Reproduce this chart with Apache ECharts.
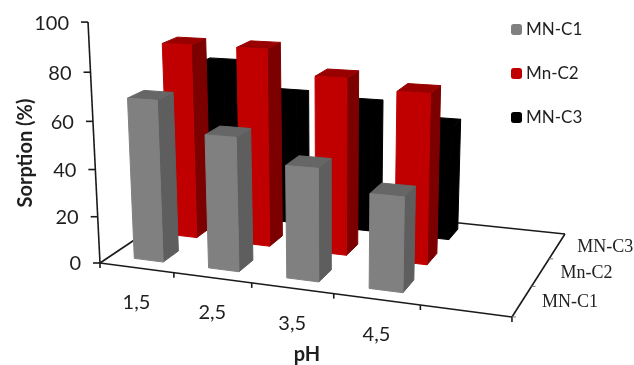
<!DOCTYPE html>
<html>
<head>
<meta charset="utf-8">
<style>
  html, body { margin: 0; padding: 0; background: #fff; }
  #chart { width: 634px; height: 365px; }
</style>
<script src="https://cdn.jsdelivr.net/npm/echarts@6/dist/echarts.min.js"></script>
</head>
<body>
<div id="chart"></div>
<script>
const phLabels = ["1,5", "2,5", "3,5", "4,5"];
const seriesNames = ["MN-C1", "Mn-C2", "MN-C3"];
const valuesC1 = [68, 55.5, 46, 38];
const valuesC2 = [84, 84, 74, 70];
const valuesC3 = [68.5, 56.5, 54.5, 48.5];
const yTicks = [0, 20, 40, 60, 80, 100];

// the picture keeps an empty fifth slot on the floor
const slotCount = phLabels.length + 1;
const depthCount = seriesNames.length;

const gridBox = { left: 100, top: 22, width: 412, height: 241 };

// camera: floor homography plus a vertical vanishing point far below the chart
const cam = {
  a: 347.7, b: 129.4, c: 100,
  d: 14.2, e: -38.2, f: 263,
  g: -0.1255, h: 0.147,
  vx: -0.163, vy: -2.42, vw: -0.00049,
};

function project(u, w, v) {
  const nu = u / slotCount;
  const nw = w / depthCount;
  const den = cam.g * nu + cam.h * nw + 1 + cam.vw * v;
  return [
    (cam.a * nu + cam.b * nw + cam.c + cam.vx * v) / den,
    (cam.d * nu + cam.e * nw + cam.f + cam.vy * v) / den,
  ];
}

const shades = [
  { front: "#808080", side: "#5e5e5e", top: "#666666" },
  { front: "#c00000", side: "#7c0000", top: "#990000" },
  { front: "#000000", side: "#000000", top: "#000000" },
];

function barRenderer(depth) {
  const shade = shades[depth];
  return function (params, api) {
    // go through the hidden axes, then tip the flat position into the 3D floor
    const pt = api.coord([api.value(0), api.value(1)]);
    const u = (pt[0] - gridBox.left) / (gridBox.width / slotCount);
    const v = (100 * (gridBox.top + gridBox.height - pt[1])) / gridBox.height;
    const u0 = u - 0.18, u1 = u + 0.215;
    const w0 = depth + 0.3, w1 = depth + 0.74;
    const poly = (points, fill) => ({
      type: "polygon",
      shape: { points },
      style: { fill, stroke: fill, lineWidth: 1 },
    });
    return {
      type: "group",
      children: [
        poly([project(u1, w0, 0), project(u1, w1, 0), project(u1, w1, v), project(u1, w0, v)], shade.side),
        poly([project(u0, w0, v), project(u1, w0, v), project(u1, w1, v), project(u0, w1, v)], shade.top),
        poly([project(u0, w0, 0), project(u1, w0, 0), project(u1, w0, v), project(u0, w0, v)], shade.front),
      ],
    };
  };
}

function seg(p, q, width, color) {
  return {
    type: "line",
    shape: { x1: p[0], y1: p[1], x2: q[0], y2: q[1] },
    style: { stroke: color || "#1a1a1a", lineWidth: width || 1.6 },
  };
}

function label(text, x, y, opts) {
  return {
    type: "text",
    x,
    y,
    style: Object.assign({
      text,
      fill: "#1f1f1f",
      fontFamily: "Lato",
      fontSize: 20,
      textAlign: "center",
      textVerticalAlign: "middle",
    }, opts),
  };
}

function renderFrame() {
  const children = [];
  const A = project(0, 0, 0), B = project(slotCount, 0, 0);
  const C = project(slotCount, depthCount, 0), D = project(0, depthCount, 0);
  children.push(seg(A, B), seg(B, C), seg(C, D), seg(D, A));
  children.push(seg(A, project(0, 0, 100)));

  yTicks.forEach((t) => {
    const p = project(0, 0, t);
    children.push(seg(p, [p[0] - 7, p[1]]));
    children.push(label(String(t), p[0] - 19, p[1] + 1, { textAlign: "right" }));
  });

  for (let i = 0; i <= slotCount; i++) {
    const p = project(i, 0, 0);
    children.push(seg(p, [p[0], p[1] + 5]));
  }
  phLabels.forEach((t, i) => {
    const p = project(i + 0.5, 0, 0);
    children.push(label(t, p[0], p[1] + 35));
  });

  for (let i = 0; i < depthCount; i++) {
    const p = project(slotCount, i, 0);
    children.push(seg(p, [p[0] + 4, p[1]], 1, "#777"));
    const q = project(slotCount, i + 0.5, 0);
    children.push(label(seriesNames[i], q[0] + 20, q[1] + 1, {
      textAlign: "left",
      fontFamily: "Liberation Serif",
      fontSize: 18,
      fill: "#222",
    }));
  }

  children.push(label("pH", 307, 355, { fontWeight: "bold" }));
  const title = label("Sorption (%)", 26, 153, { fontWeight: "bold" });
  title.rotation = Math.PI / 2;
  children.push(title);

  return { type: "group", children };
}

function barSeries(name, values, depth) {
  return {
    name,
    type: "custom",
    coordinateSystem: "cartesian2d",
    z: 5 - depth,
    renderItem: barRenderer(depth),
    itemStyle: { color: shades[depth].front },
    encode: { x: 0, y: 1 },
    data: values.map((v, i) => [i, v]),
  };
}

const chart = echarts.init(document.getElementById("chart"), null, { renderer: "canvas" });
chart.setOption({
  animation: false,
  grid: gridBox,
  xAxis: { type: "category", data: phLabels.concat(""), show: false },
  yAxis: { type: "value", min: 0, max: 100, show: false },
  legend: {
    data: seriesNames,
    orient: "vertical",
    left: 506,
    top: 16,
    itemWidth: 11,
    itemHeight: 11,
    itemGap: 27,
    selectedMode: false,
    textStyle: { fontFamily: "Lato", fontSize: 17, color: "#1f1f1f", padding: [0, 0, 0, -1] },
  },
  series: [
    {
      name: "frame",
      type: "custom",
      coordinateSystem: "cartesian2d",
      z: 1,
      silent: true,
      renderItem: renderFrame,
      data: [[0, 0]],
    },
    barSeries(seriesNames[0], valuesC1, 0),
    barSeries(seriesNames[1], valuesC2, 1),
    barSeries(seriesNames[2], valuesC3, 2),
  ],
});
</script>
</body>
</html>
